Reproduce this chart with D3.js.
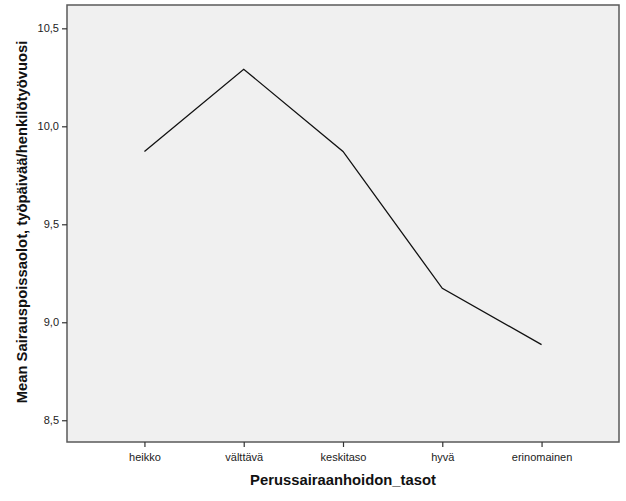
<!DOCTYPE html>
<html><head><meta charset="utf-8">
<script src="https://cdn.jsdelivr.net/npm/d3@7"></script>
<style>body{margin:0;background:#fff;} text{font-family:"Liberation Sans",Arial,sans-serif;}</style>
</head><body>
<svg id="c" width="626" height="501"></svg>
<script>
const categories = ["heikko","välttävä","keskitaso","hyvä","erinomainen"];
const means = [9.871, 10.291, 9.872, 9.173, 8.886];
const yTicks = [8.5, 9.0, 9.5, 10.0, 10.5];
const yTickLabels = ["8,5","9,0","9,5","10,0","10,5"];
const xTitle = "Perussairaanhoidon_tasot";
const yTitle = "Mean Sairauspoissaolot, työpäivää/henkilötyövuosi";

const svg = d3.select("#c");
const L = 67, R = 619, T = 5, B = 442;
const x = d3.scalePoint().domain(categories).range([L, R]).padding(0.78);
const y = d3.scaleLinear().domain([8.389, 10.619]).range([B, T]);

svg.append("rect").attr("x", L).attr("y", T).attr("width", R-L).attr("height", B-T)
  .attr("fill", "#f0f0f0").attr("stroke", "#5a5a5a").attr("stroke-width", 1.5);

const ya = svg.append("g").attr("transform", `translate(${L},0)`)
  .call(d3.axisLeft(y).tickValues(yTicks).tickSize(5).tickPadding(3)
    .tickFormat((d,i) => yTickLabels[i]));
ya.select(".domain").remove();
ya.selectAll("line").attr("stroke", "#333").attr("stroke-width", 1.2);
ya.selectAll("text").attr("font-size", 11).attr("fill", "#222")
  .style("font-family", '"Liberation Sans",Arial,sans-serif');

const xa = svg.append("g").attr("transform", `translate(0,${B})`)
  .call(d3.axisBottom(x).tickSize(5).tickPadding(6));
xa.select(".domain").remove();
xa.selectAll("line").attr("stroke", "#333").attr("stroke-width", 1.2);
xa.selectAll("text").attr("font-size", 11).attr("fill", "#222")
  .style("font-family", '"Liberation Sans",Arial,sans-serif');

const line = d3.line().x((d,i) => x(categories[i])).y(d => y(d));
svg.append("path").datum(means).attr("d", line)
  .attr("fill", "none").attr("stroke", "#111").attr("stroke-width", 1.3);

svg.append("text").attr("x", 343).attr("y", 485).attr("text-anchor", "middle")
  .attr("font-size", 14.8).attr("font-weight", "bold").attr("fill", "#111").text(xTitle);
svg.append("text").attr("transform", "translate(27,222) rotate(-90)").attr("text-anchor", "middle")
  .attr("font-size", 14.8).attr("font-weight", "bold").attr("fill", "#111").text(yTitle);
</script>
</body></html>
